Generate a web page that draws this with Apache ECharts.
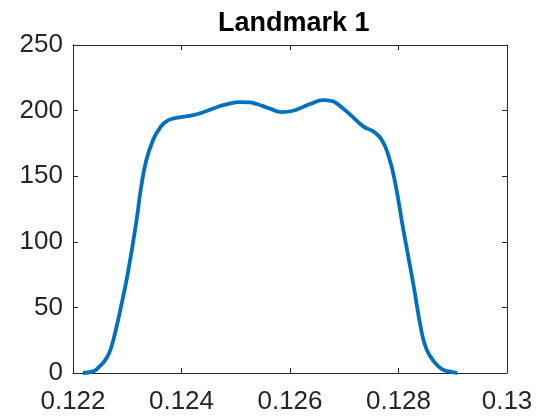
<!DOCTYPE html>
<html>
<head>
<meta charset="utf-8">
<script src="https://cdn.jsdelivr.net/npm/echarts@6/dist/echarts.min.js"></script>
<style>html,body{margin:0;padding:0;background:#fff}#c{width:560px;height:420px}</style>
</head>
<body>
<div id="c"></div>
<script>
const titleText = "Landmark 1";
const xValues = [0.12218,0.12237,0.12249,0.12262,0.12271,0.12279,0.12286,0.12301,0.12317,0.12325,0.12335,0.12347,0.12360,0.12375,0.12396,0.12422,0.12445,0.12465,0.12485,0.12508,0.12525,0.12539,0.12563,0.12585,0.12606,0.12625,0.12637,0.12661,0.12676,0.12686,0.12711,0.12735,0.12754,0.12769,0.12782,0.12794,0.12809,0.12827,0.12843,0.12852,0.12865,0.12880,0.12896,0.12908];
const densityValues = [0,1.2,5,11.4,20.3,33,45.7,76,116,140,162,177,186.7,192.5,194.8,196.5,199.5,202.6,205,206.5,206.3,205,201.5,198.9,199.9,203,205,208,207.5,205.5,196.9,188,184,177.8,165,144.8,109,68.6,30.5,17.8,8.9,3,1,0];
const xTicks = [0.122,0.124,0.126,0.128,0.13];
const yTicks = [0,50,100,150,200,250];

const font = "'Liberation Sans', Arial, Helvetica, sans-serif";
const axisColor = '#262626';
const chart = echarts.init(document.getElementById('c'), null, {renderer:'canvas'});
const seriesData = xValues.map((x,i)=>[x, densityValues[i]]);
const xFmt = v => String(+(+v).toFixed(4));
const common = {
  axisLine:{show:true, onZero:false, lineStyle:{color:axisColor, width:1}},
  axisTick:{show:true, inside:true, length:5, lineStyle:{color:axisColor, width:1}},
  splitLine:{show:false}
};
chart.setOption({
  animation:false,
  backgroundColor:'#fff',
  title:{text:titleText, left:213, top:5, textStyle:{fontFamily:font, fontSize:27, fontWeight:'bold', color:'#000'}},
  grid:{left:73, right:53, top:45, bottom:47, containLabel:false},
  xAxis:[
    Object.assign({type:'value', min:xTicks[0], max:xTicks[xTicks.length-1], interval:0.002, position:'bottom',
      axisLabel:{show:true, margin:16, fontFamily:font, fontSize:26, color:axisColor, formatter:xFmt}}, common),
    Object.assign({type:'value', min:xTicks[0], max:xTicks[xTicks.length-1], interval:0.002, position:'top',
      axisLabel:{show:false}}, common)
  ],
  yAxis:[
    Object.assign({type:'value', min:yTicks[0], max:yTicks[yTicks.length-1], interval:50, position:'left',
      axisLabel:{show:true, margin:10, fontFamily:font, fontSize:26, color:axisColor}}, common),
    Object.assign({type:'value', min:yTicks[0], max:yTicks[yTicks.length-1], interval:50, position:'right',
      axisLabel:{show:false}}, common)
  ],
  series:[{type:'line', data:seriesData, xAxisIndex:0, yAxisIndex:0, smooth:0.5, showSymbol:false, symbol:'none',
    lineStyle:{color:'#0072BD', width:3.8}, itemStyle:{color:'#0072BD'}}]
});
</script>
</body>
</html>
